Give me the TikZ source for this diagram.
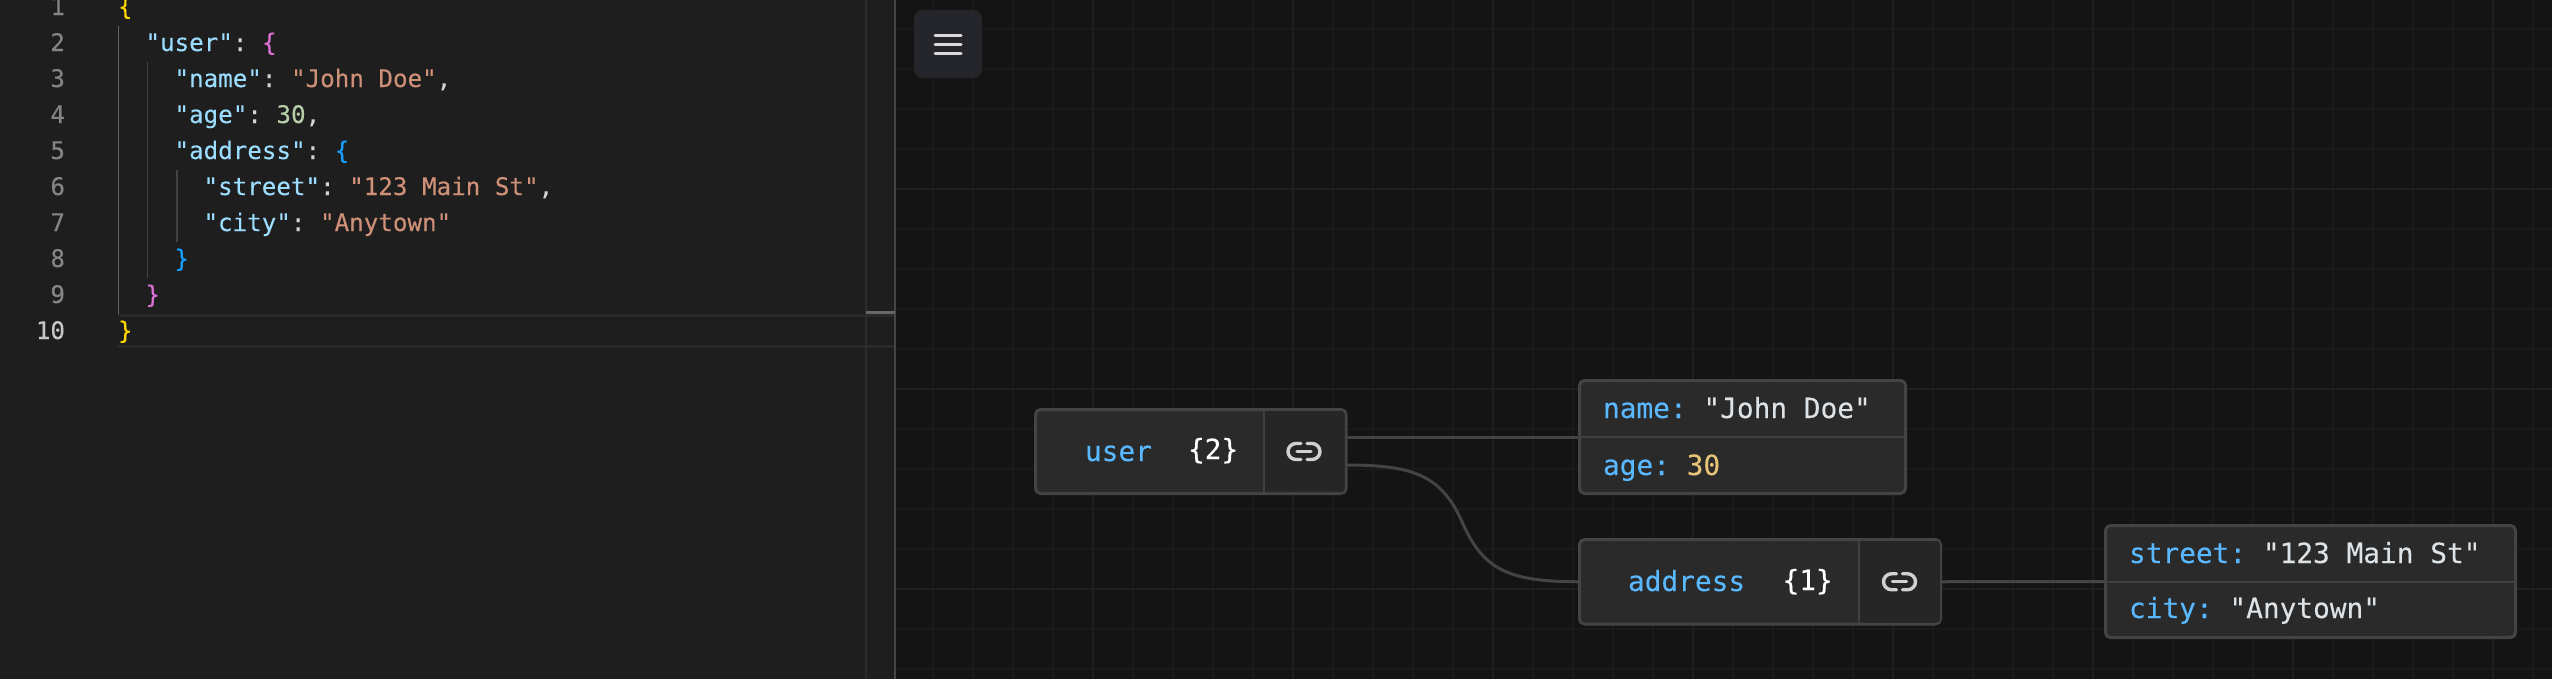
\documentclass[tikz,border=0pt]{standalone}
\usepackage{fontspec}
\setmonofont{DejaVu Sans Mono}[FakeBold=0.15]
\usetikzlibrary{calc}

\definecolor{panelbg}{HTML}{1E1E1E}
\definecolor{canvasbg}{HTML}{141414}
\definecolor{gridminor}{HTML}{1A1A1A}
\definecolor{gridmajor}{HTML}{1F1F1F}
\definecolor{boxfill}{HTML}{2A2A2A}
\definecolor{linkfill}{HTML}{262626}
\definecolor{boxline}{HTML}{444444}
\definecolor{menufill}{HTML}{25262B}
\definecolor{jsonkey}{HTML}{9CDCFE}
\definecolor{jsonstr}{HTML}{CE9178}
\definecolor{jsonnum}{HTML}{B5CEA8}
\definecolor{jsonpunct}{HTML}{D4D4D4}
\definecolor{bracegold}{HTML}{FFD700}
\definecolor{bracepink}{HTML}{DA70D6}
\definecolor{braceblue}{HTML}{179FFF}
\definecolor{nodekey}{HTML}{59B8FF}
\definecolor{nodeval}{HTML}{DCE2E6}
\definecolor{nodenum}{HTML}{E8C479}

\newcommand{\jk}[1]{\textcolor{jsonkey}{"#1"}\textcolor{jsonpunct}{:}}
\newcommand{\js}[1]{\textcolor{jsonstr}{"#1"}}
\newcommand{\jc}{\textcolor{jsonpunct}{,}}

\tikzset{
  codeline/.style={anchor=base west, inner sep=0pt, outer sep=0pt, font=\ttfamily\fontsize{24.2}{30}\selectfont, text=jsonpunct},
  lineno/.style={anchor=base east, inner sep=0pt, outer sep=0pt, font=\ttfamily\fontsize{24.2}{30}\selectfont, text=#1},
  guide/.style={draw=#1, line width=1.6pt},
  objbox/.style={draw=boxline, line width=3pt, fill=boxfill, rounded corners=5pt, inner sep=0pt, outer sep=0pt},
  linkcell/.style={fill=linkfill, rounded corners=3pt, inner sep=0pt, outer sep=0pt},
  rowtext/.style={anchor=base west, inner sep=0pt, outer sep=0pt, font=\ttfamily\fontsize{27.8}{32}\selectfont, text=nodeval},
  edge/.style={draw=boxline, line width=3pt},
  rowline/.style={draw=boxline!85!boxfill, line width=2pt},
  linkicon/.pic={
    \draw[line width=3.4pt, line cap=round, color=black!18, rounded corners=8pt] (-3,-8) -- (-16,-8) -- (-16,8) -- (-3,8);
    \draw[line width=3.4pt, line cap=round, color=black!18, rounded corners=8pt] (3,-8) -- (16,-8) -- (16,8) -- (3,8);
    \draw[line width=3.4pt, line cap=round, color=black!18] (-7,0) -- (7,0);
  }
}

\begin{document}
\begin{tikzpicture}[x=1pt,y=-1pt]
\useasboundingbox (0,0) rectangle (2552,678);
\fill[panelbg] (-2,-2) rectangle (895,682);
\fill[canvasbg] (895,-2) rectangle (2556,682);

% grid of the canvas
\foreach \gx in {933,973,...,2552} \draw[gridminor, line width=1.4pt] (\gx,0) -- (\gx,682);
\foreach \gy in {29,69,...,678} \draw[gridminor, line width=1.4pt] (896,\gy) -- (2556,\gy);
\foreach \gx in {1093,1293,...,2552} \draw[gridmajor, line width=2pt] (\gx,0) -- (\gx,682);
\foreach \gy in {189,389,589} \draw[gridmajor, line width=2pt] (896,\gy) -- (2556,\gy);

% editor panel
\fill[black!84] (118,314) rectangle (895,317);
\fill[black!84] (118,345) rectangle (895,348);
\draw[black!83, line width=1.4pt] (866,0) -- (866,682);
\draw[black!73, line width=2.4pt] (895,0) -- (895,682);
\fill[black!60] (866,311) rectangle (895,314);
\draw[guide=black!60] (118.5,26) -- (118.5,314);
\draw[guide=black!74] (147.5,62) -- (147.5,278);
\draw[guide=black!74] (177,170) -- (177,242);

\foreach \n/\by in {1/15,2/51,3/87,4/123,5/159,6/195,7/231,8/267,9/303}
  \node[lineno=black!48] (ln\n) at (65,\by) {\n};
\node[lineno=black!22] (ln10) at (65,339) {10};

\node[codeline] (code1) at (118,15) {\textcolor{bracegold}{\{}};
\node[codeline] (code2) at (145.5,51) {\jk{user} \textcolor{bracepink}{\{}};
\node[codeline] (code3) at (174.5,87) {\jk{name} \js{John Doe}\jc};
\node[codeline] (code4) at (174.5,123) {\jk{age} \textcolor{jsonnum}{30}\jc};
\node[codeline] (code5) at (174.5,159) {\jk{address} \textcolor{braceblue}{\{}};
\node[codeline] (code6) at (203.5,195) {\jk{street} \js{123 Main St}\jc};
\node[codeline] (code7) at (203.5,231) {\jk{city} \js{Anytown}};
\node[codeline] (code8) at (174.5,267) {\textcolor{braceblue}{\}}};
\node[codeline] (code9) at (145.5,303) {\textcolor{bracepink}{\}}};
\node[codeline] (code10) at (118,339) {\textcolor{bracegold}{\}}};

% menu button
\node[fill=menufill, rounded corners=9pt, minimum width=68pt, minimum height=68pt, inner sep=0pt] (menuBtn) at (948,44) {};
\foreach \dy in {-9,0,9}
  \draw[black!14, line width=3pt, line cap=round] ($(menuBtn)+(-13,\dy)$) -- ($(menuBtn)+(13,\dy)$);

% boxes
\node[objbox, minimum width=310.5pt, minimum height=84pt] (userBox) at (1190.75,451.5) {};
\node[objbox, minimum width=326pt, minimum height=113pt] (nameBox) at (1742.5,437) {};
\node[objbox, minimum width=361pt, minimum height=84.5pt] (addressBox) at (1760,581.75) {};
\node[objbox, minimum width=410pt, minimum height=112pt] (streetBox) at (2310.5,581.5) {};

% link cells
\node[linkcell, minimum width=81pt, minimum height=81pt] (userLink) at (1304,451.5) {};
\node[linkcell, minimum width=81pt, minimum height=81.5pt] (addressLink) at (1899.5,581.75) {};
\draw[rowline] (userLink.north west) -- (userLink.south west);
\draw[rowline] (addressLink.north west) -- (addressLink.south west);
\pic at (userLink) {linkicon};
\pic at (addressLink) {linkicon};

\draw[rowline] (nameBox.west) -- (nameBox.east);
\draw[rowline] (streetBox.west) -- (streetBox.east);

% connectors
\coordinate (userOutA) at ($(userBox.east)+(0,-14.5)$);
\coordinate (userOutB) at ($(userBox.east)+(0,13.5)$);
\coordinate (edgeMid) at ($(userOutB)!.5!(addressBox.west)$);
\draw[edge] (userOutA) -- (nameBox.west);
\draw[edge] (userOutB) .. controls +(68,0) and +(-21,-48) .. (edgeMid) .. controls +(21,48) and +(-68,0) .. (addressBox.west);
\draw[edge] (addressBox.east) -- (streetBox.west);

% labels
\node[rowtext, text=nodekey] (userLabel) at (1085,461) {user};
\node[rowtext, text=white] (userCount) at (1188,459) {\{2\}};
\node[rowtext, text=nodekey] (addressLabel) at (1628,591) {address};
\node[rowtext, text=white] (addressCount) at (1782.5,590) {\{1\}};
\node[rowtext] (nameRow) at (1603,418) {\textcolor{nodekey}{name:} "John Doe"};
\node[rowtext] (ageRow) at (1603,475) {\textcolor{nodekey}{age:} \textcolor{nodenum}{30}};
\node[rowtext] (streetRow) at (2129,563) {\textcolor{nodekey}{street:} "123 Main St"};
\node[rowtext] (cityRow) at (2129,618) {\textcolor{nodekey}{city:} "Anytown"};
\end{tikzpicture}
\end{document}
